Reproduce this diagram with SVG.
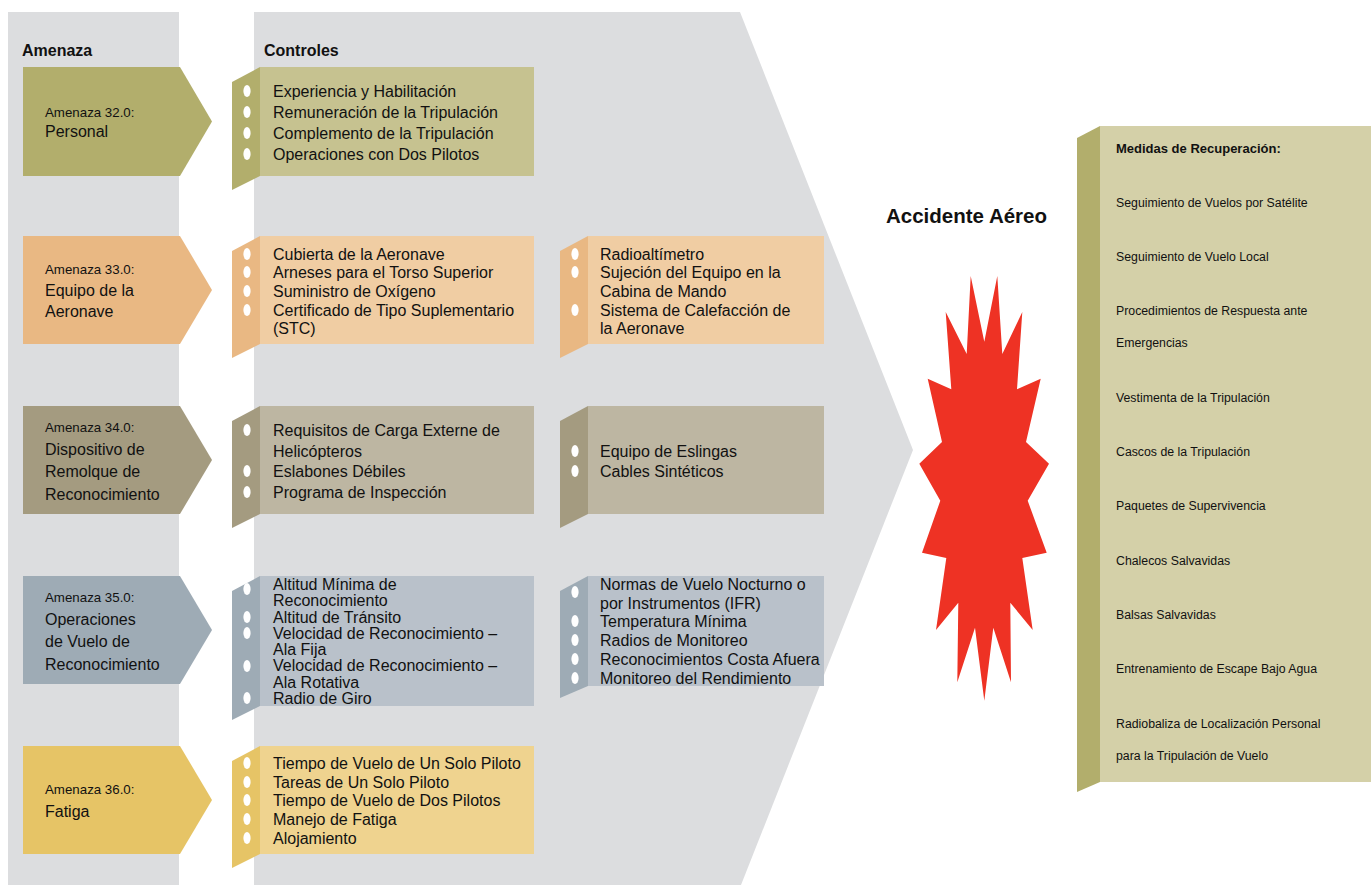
<svg xmlns="http://www.w3.org/2000/svg" width="1371" height="885" viewBox="0 0 1371 885">
<style>
.bg{fill:#dcdddf}
.hdr{font-family:"Liberation Sans",Arial,sans-serif;font-weight:bold;font-size:16px;fill:#111}
.tsm{font-family:"Liberation Sans",Arial,sans-serif;font-size:13.3px;fill:#111}
.tlg{font-family:"Liberation Sans",Arial,sans-serif;font-size:16px;fill:#111}
.ctl{font-family:"Liberation Sans",Arial,sans-serif;font-size:16px;fill:#111}
.rec{font-family:"Liberation Sans",Arial,sans-serif;font-size:12.3px;fill:#111}
.recb{font-family:"Liberation Sans",Arial,sans-serif;font-size:13px;font-weight:bold;fill:#111}
.acc{font-family:"Liberation Sans",Arial,sans-serif;font-size:20.5px;font-weight:bold;fill:#111}
.dot{fill:#fff}
.c1{fill:#b2ae6c}.l1{fill:#c6c290}
.c2{fill:#e9b883}.l2{fill:#f0cda3}
.c3{fill:#a49b80}.l3{fill:#bdb6a2}
.c4{fill:#9eabb5}.l4{fill:#b9c1ca}
.c5{fill:#e6c466}.l5{fill:#efd38f}
</style>
<defs>
<ellipse id="b" cx="0" cy="0" rx="3.6" ry="6" class="dot"/>
</defs>
<rect width="1371" height="885" fill="#fff"/>
<g id="background">
<rect class="bg" x="8" y="12" width="171" height="873"/>
<polygon class="bg" points="254,12 740,12 913,450 741,885 254,885"/>
</g>
<text class="hdr" x="22" y="56">Amenaza</text>
<text class="hdr" x="264" y="56">Controles</text>

<g id="threat-32">
<polygon class="c1" points="23,67 180,67 212,121.5 180,176 23,176"/>
<text class="tsm" x="45" y="117">Amenaza 32.0:</text>
<text class="tlg" x="45" y="137">Personal</text>
</g>
<g id="threat-33">
<polygon class="c2" points="23,236 180,236 212,290 180,344 23,344"/>
<text class="tsm" x="45" y="274">Amenaza 33.0:</text>
<text class="tlg" x="45" y="296">Equipo de la</text>
<text class="tlg" x="45" y="317">Aeronave</text>
</g>
<g id="threat-34">
<polygon class="c3" points="23,406 180,406 212,460 180,514 23,514"/>
<text class="tsm" x="45" y="432">Amenaza 34.0:</text>
<text class="tlg" x="45" y="455">Dispositivo de</text>
<text class="tlg" x="45" y="477">Remolque de</text>
<text class="tlg" x="45" y="500">Reconocimiento</text>
</g>
<g id="threat-35">
<polygon class="c4" points="23,576 180,576 212,630 180,684 23,684"/>
<text class="tsm" x="45" y="602">Amenaza 35.0:</text>
<text class="tlg" x="45" y="625">Operaciones</text>
<text class="tlg" x="45" y="647">de Vuelo de</text>
<text class="tlg" x="45" y="670">Reconocimiento</text>
</g>
<g id="threat-36">
<polygon class="c5" points="23,746 180,746 212,800 180,854 23,854"/>
<text class="tsm" x="45" y="794">Amenaza 36.0:</text>
<text class="tlg" x="45" y="817">Fatiga</text>
</g>

<g id="controls-32">
<polygon class="c1" points="232,82 260,67 260,176 232,190"/>
<rect class="l1" x="260" y="67" width="274" height="109"/>
<use href="#b" x="247" y="91"/><use href="#b" x="247" y="112"/><use href="#b" x="247" y="133"/><use href="#b" x="247" y="154"/>
<text class="ctl" x="273" y="97">Experiencia y Habilitación</text>
<text class="ctl" x="273" y="118">Remuneración de la Tripulación</text>
<text class="ctl" x="273" y="139">Complemento de la Tripulación</text>
<text class="ctl" x="273" y="160">Operaciones con Dos Pilotos</text>
</g>

<g id="controls-33a">
<polygon class="c2" points="232,251 260,236 260,344 232,358"/>
<rect class="l2" x="260" y="236" width="274" height="108"/>
<use href="#b" x="247" y="254"/><use href="#b" x="247" y="272"/><use href="#b" x="247" y="291"/><use href="#b" x="247" y="310"/>
<text class="ctl" x="273" y="260">Cubierta de la Aeronave</text>
<text class="ctl" x="273" y="278">Arneses para el Torso Superior</text>
<text class="ctl" x="273" y="297">Suministro de Oxígeno</text>
<text class="ctl" x="273" y="316">Certificado de Tipo Suplementario</text>
<text class="ctl" x="273" y="334">(STC)</text>
</g>
<g id="controls-33b">
<polygon class="c2" points="560,251 588,236 588,344 560,358"/>
<rect class="l2" x="588" y="236" width="236" height="108"/>
<use href="#b" x="575" y="254"/><use href="#b" x="575" y="272"/><use href="#b" x="575" y="310"/>
<text class="ctl" x="600" y="260">Radioaltímetro</text>
<text class="ctl" x="600" y="278">Sujeción del Equipo en la</text>
<text class="ctl" x="600" y="297">Cabina de Mando</text>
<text class="ctl" x="600" y="316">Sistema de Calefacción de</text>
<text class="ctl" x="600" y="334">la Aeronave</text>
</g>

<g id="controls-34a">
<polygon class="c3" points="232,421 260,406 260,514 232,528"/>
<rect class="l3" x="260" y="406" width="274" height="108"/>
<use href="#b" x="247" y="430"/><use href="#b" x="247" y="471"/><use href="#b" x="247" y="492"/>
<text class="ctl" x="273" y="436">Requisitos de Carga Externe de</text>
<text class="ctl" x="273" y="457">Helicópteros</text>
<text class="ctl" x="273" y="477">Eslabones Débiles</text>
<text class="ctl" x="273" y="498">Programa de Inspección</text>
</g>
<g id="controls-34b">
<polygon class="c3" points="560,421 588,406 588,514 560,528"/>
<rect class="l3" x="588" y="406" width="236" height="108"/>
<use href="#b" x="575" y="451"/><use href="#b" x="575" y="471"/>
<text class="ctl" x="600" y="457">Equipo de Eslingas</text>
<text class="ctl" x="600" y="477">Cables Sintéticos</text>
</g>

<g id="controls-35a">
<polygon class="c4" points="232,591 260,576 260,706 232,720"/>
<rect class="l4" x="260" y="576" width="274" height="130"/>
<use href="#b" x="247" y="589"/><use href="#b" x="247" y="617"/><use href="#b" x="247" y="633"/><use href="#b" x="247" y="666"/><use href="#b" x="247" y="698"/>
<text class="ctl" x="273" y="590">Altitud Mínima de</text>
<text class="ctl" x="273" y="606">Reconocimiento</text>
<text class="ctl" x="273" y="623">Altitud de Tránsito</text>
<text class="ctl" x="273" y="639">Velocidad de Reconocimiento –</text>
<text class="ctl" x="273" y="655">Ala Fija</text>
<text class="ctl" x="273" y="671">Velocidad de Reconocimiento –</text>
<text class="ctl" x="273" y="688">Ala Rotativa</text>
<text class="ctl" x="273" y="704">Radio de Giro</text>
</g>
<g id="controls-35b">
<polygon class="c4" points="560,591 588,576 588,686 560,698"/>
<rect class="l4" x="588" y="576" width="236" height="110"/>
<use href="#b" x="575" y="592"/><use href="#b" x="575" y="621"/><use href="#b" x="575" y="640"/><use href="#b" x="575" y="659"/><use href="#b" x="575" y="678"/>
<text class="ctl" x="600" y="590">Normas de Vuelo Nocturno o</text>
<text class="ctl" x="600" y="609">por Instrumentos (IFR)</text>
<text class="ctl" x="600" y="627">Temperatura Mínima</text>
<text class="ctl" x="600" y="646">Radios de Monitoreo</text>
<text class="ctl" x="600" y="665">Reconocimientos Costa Afuera</text>
<text class="ctl" x="600" y="684">Monitoreo del Rendimiento</text>
</g>

<g id="controls-36">
<polygon class="c5" points="232,761 260,746 260,854 232,868"/>
<rect class="l5" x="260" y="746" width="274" height="108"/>
<use href="#b" x="247" y="763"/><use href="#b" x="247" y="782"/><use href="#b" x="247" y="800"/><use href="#b" x="247" y="819"/><use href="#b" x="247" y="838"/>
<text class="ctl" x="273" y="769">Tiempo de Vuelo de Un Solo Piloto</text>
<text class="ctl" x="273" y="788">Tareas de Un Solo Piloto</text>
<text class="ctl" x="273" y="806">Tiempo de Vuelo de Dos Pilotos</text>
<text class="ctl" x="273" y="825">Manejo de Fatiga</text>
<text class="ctl" x="273" y="844">Alojamiento</text>
</g>

<g id="accident">
<text class="acc" x="886" y="223">Accidente Aéreo</text>
<polygon fill="#ee3224" points="970.7,276 984.3,341.7 997.3,276 1002.3,354 1022.3,312 1017,389.3 1040.7,378.7 1026,442 1049,463.7 1027.7,500.7 1046.7,552.7 1022.3,558 1032.7,630 1010.3,602.7 1011,682.3 993.3,627.7 984.3,700.7 975,627.7 957.3,682.3 958.3,602.7 936,630 946.3,558 922,552.7 940.3,500.7 919.3,463.7 942,442 927.7,378.7 951.3,389.3 945.7,312 966.7,354"/>
</g>

<g id="recovery">
<polygon class="c1" points="1077,138 1100,126 1100,782 1077,792"/>
<rect x="1100" y="126" width="271" height="656" fill="#d4d0a8"/>
<text class="recb" x="1116" y="153">Medidas de Recuperación:</text>
<text class="rec" x="1116" y="207">Seguimiento de Vuelos por Satélite</text>
<text class="rec" x="1116" y="261">Seguimiento de Vuelo Local</text>
<text class="rec" x="1116" y="315">Procedimientos de Respuesta ante</text>
<text class="rec" x="1116" y="347">Emergencias</text>
<text class="rec" x="1116" y="402">Vestimenta de la Tripulación</text>
<text class="rec" x="1116" y="456">Cascos de la Tripulación</text>
<text class="rec" x="1116" y="510">Paquetes de Supervivencia</text>
<text class="rec" x="1116" y="565">Chalecos Salvavidas</text>
<text class="rec" x="1116" y="619">Balsas Salvavidas</text>
<text class="rec" x="1116" y="673">Entrenamiento de Escape Bajo Agua</text>
<text class="rec" x="1116" y="728">Radiobaliza de Localización Personal</text>
<text class="rec" x="1116" y="760">para la Tripulación de Vuelo</text>
</g>
</svg>
